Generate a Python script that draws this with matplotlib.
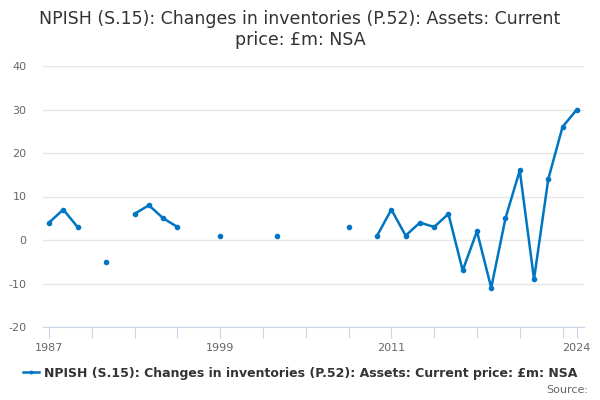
import numpy as np
import matplotlib
matplotlib.use("Agg")
import matplotlib.pyplot as plt

plt.rcParams["axes.unicode_minus"] = False

# values, NaN where no data
years = list(range(1987, 2025))
values = {
    1987: 4, 1988: 7, 1989: 3, 1991: -5, 1993: 6, 1994: 8, 1995: 5, 1996: 3,
    1999: 1, 2003: 1, 2008: 3, 2010: 1, 2011: 7, 2012: 1, 2013: 4, 2014: 3,
    2015: 6, 2016: -7, 2017: 2, 2018: -11, 2019: 5, 2020: 16, 2021: -9,
    2022: 14, 2023: 26, 2024: 30,
}
series = [values.get(y, np.nan) for y in years]
label = "NPISH (S.15): Changes in inventories (P.52): Assets: Current price: £m: NSA"
title = "NPISH (S.15): Changes in inventories (P.52): Assets: Current\nprice: £m: NSA"
tick_years = list(range(1987, 2024, 3)) + [2024]
label_years = [1987, 1999, 2011, 2024]

blue = "#0075c2"
fig = plt.figure(figsize=(6, 4), dpi=100)
ax = fig.add_axes([0.0717, 0.1825, 0.9013, 0.6525])

ax.plot(years, series, color=blue, lw=1.8, marker="o", ms=3, label=label)

ax.set_ylim(-20, 40)
ax.set_xlim(1986.58, 2024.49)
ax.set_yticks(range(-20, 41, 10))
ax.grid(axis="y", color="#e6e6e6", lw=1)
ax.set_axisbelow(True)
for s in ["top", "right", "left"]:
    ax.spines[s].set_visible(False)
ax.spines["bottom"].set_color("#ccd6eb")
ax.set_xticks(tick_years)
ax.set_xticklabels([str(y) if y in label_years else "" for y in tick_years])
ax.tick_params(axis="x", colors="#ccd6eb", length=8, labelcolor="#666666", labelsize=8)
ax.tick_params(axis="y", length=0, labelcolor="#666666", labelsize=8, pad=12)

fig.suptitle(title, x=0.5, y=0.975, fontsize=12.5, color="#333333", va="top")
fig.legend(loc="center", bbox_to_anchor=(0.5, 0.067), frameon=False,
           prop={"weight": "bold", "size": 9}, labelcolor="#333333",
           handlelength=1.3, handletextpad=0.4, markerscale=0.6)
fig.text(0.98, 0.025, "Source:", ha="right", va="center", fontsize=8, color="#666666")

fig.savefig("out.png", dpi=100)
